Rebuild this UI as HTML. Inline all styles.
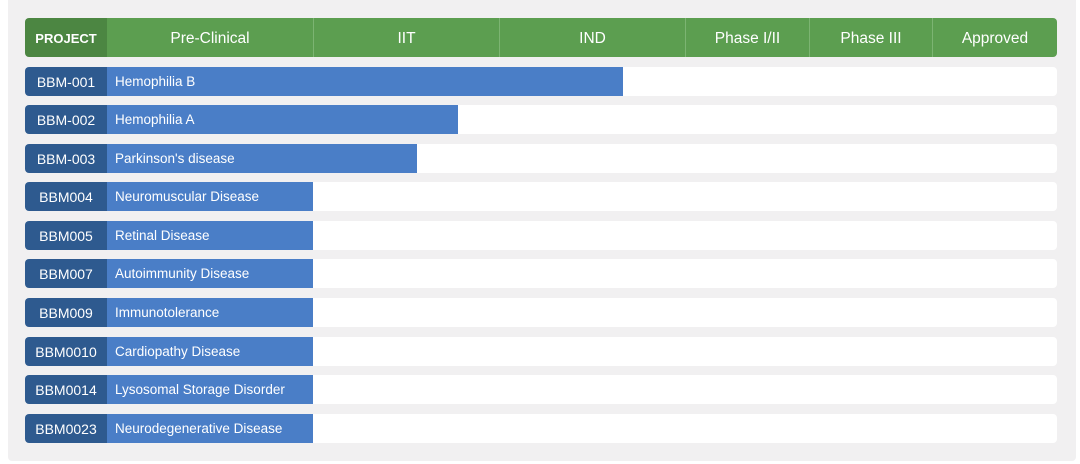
<!DOCTYPE html><html><head><style>
body{margin:0;width:1080px;height:464px;background:#fff;font-family:"Liberation Sans",sans-serif;position:relative;overflow:hidden}
.panel{position:absolute;left:8px;top:0;width:1068px;height:461px;background:#f1f0f1;border-radius:0 0 4px 4px}
.hd{position:absolute;top:18px;height:39px;color:#fff;font-size:15.5px;line-height:41px;text-align:center;background:#5c9e50;border-left:1px solid #7cb472;box-sizing:border-box}
.row{position:absolute;left:25px;width:1032px;height:29px;background:#fff;border-radius:4px;overflow:hidden}
.id{position:absolute;left:0;top:0;width:82px;height:29px;background:#2e5a8f;color:#fff;font-size:14px;line-height:30px;text-align:center}
.bar{position:absolute;left:82px;top:0;height:29px;background:#4a7ec7;color:#fff;font-size:13.5px;line-height:30px;padding-left:8px;box-sizing:border-box}
</style></head><body><div class="panel"></div>
<div class="hd" style="left:25px;width:82px;background:#4c8642;border:none;border-radius:4px 0 0 4px;font-weight:bold;font-size:13px">PROJECT</div>
<div class="hd" style="left:107px;width:206px;border:none">Pre-Clinical</div>
<div class="hd" style="left:313px;width:186px">IIT</div>
<div class="hd" style="left:499px;width:186px">IND</div>
<div class="hd" style="left:685px;width:124px">Phase I/II</div>
<div class="hd" style="left:809px;width:123px">Phase III</div>
<div class="hd" style="left:932px;width:125px;border-radius:0 4px 4px 0">Approved</div>
<div class="row" style="top:67px"><div class="id">BBM-001</div><div class="bar" style="width:516px">Hemophilia B</div></div>
<div class="row" style="top:105px"><div class="id">BBM-002</div><div class="bar" style="width:351px">Hemophilia A</div></div>
<div class="row" style="top:144px"><div class="id">BBM-003</div><div class="bar" style="width:310px">Parkinson's disease</div></div>
<div class="row" style="top:182px"><div class="id">BBM004</div><div class="bar" style="width:206px">Neuromuscular Disease</div></div>
<div class="row" style="top:221px"><div class="id">BBM005</div><div class="bar" style="width:206px">Retinal Disease</div></div>
<div class="row" style="top:259px"><div class="id">BBM007</div><div class="bar" style="width:206px">Autoimmunity Disease</div></div>
<div class="row" style="top:298px"><div class="id">BBM009</div><div class="bar" style="width:206px">Immunotolerance</div></div>
<div class="row" style="top:337px"><div class="id">BBM0010</div><div class="bar" style="width:206px">Cardiopathy Disease</div></div>
<div class="row" style="top:375px"><div class="id">BBM0014</div><div class="bar" style="width:206px">Lysosomal Storage Disorder</div></div>
<div class="row" style="top:414px"><div class="id">BBM0023</div><div class="bar" style="width:206px">Neurodegenerative Disease</div></div>
</body></html>
